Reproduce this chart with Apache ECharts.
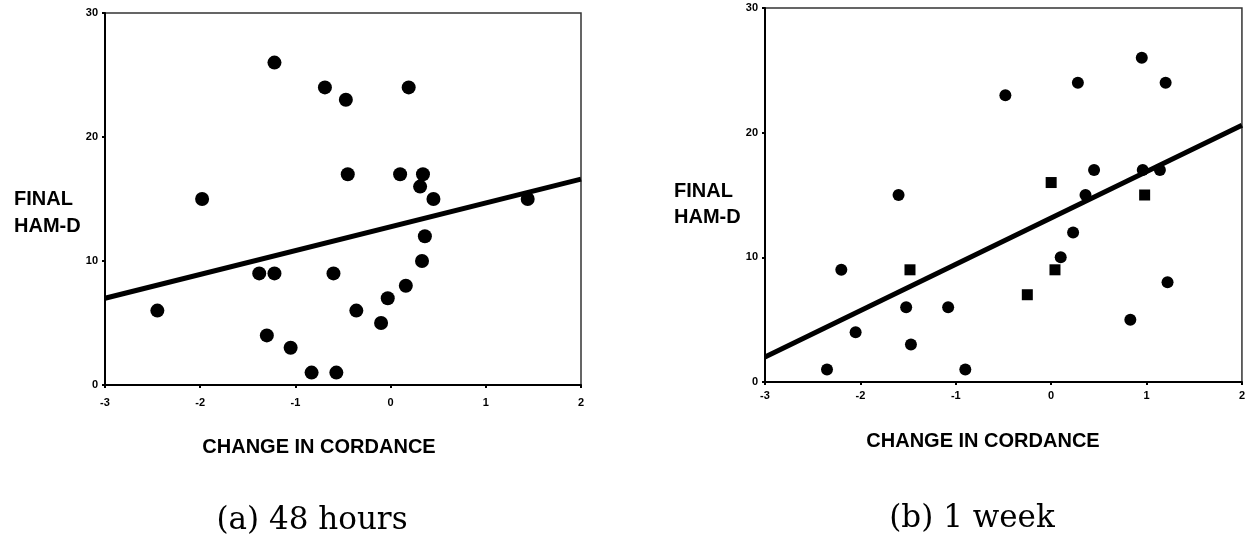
<!DOCTYPE html>
<html>
<head>
<meta charset="utf-8">
<script src="https://cdn.jsdelivr.net/npm/echarts@6/dist/echarts.min.js"></script>
<style>
html,body{margin:0;padding:0;background:#fff;}
#chart{width:1248px;height:543px;}
</style>
</head>
<body>
<div id="chart"></div>
<script>
// ---- data ----
const xTicks = [-3, -2, -1, 0, 1, 2];
const yTicks = [0, 10, 20, 30];

// (a) 48 hours
const leftX = [-2.45, -1.98, -1.22, -0.69, -0.47, 0.19, -0.45, 0.10, 0.34, 0.31, 0.45, 1.44, 0.36, 0.33, -1.38, -1.22, -0.60, 0.16, -0.03, -0.36, -0.10, -1.30, -1.05, -0.83, -0.57];
const leftY = [6, 15, 26, 24, 23, 24, 17, 17, 17, 16, 15, 15, 12, 10, 9, 9, 9, 8, 7, 6, 5, 4, 3, 1, 1];
const leftFitX = [-3, 2];
const leftFitY = [7.0, 16.6];

// (b) 1 week
const rightRoundX = [-2.35, -2.20, -2.05, -1.60, -1.52, -1.47, -1.08, -0.90, -0.48, 0.10, 0.23, 0.28, 0.36, 0.45, 0.83, 0.95, 0.96, 1.14, 1.20, 1.22];
const rightRoundY = [1, 9, 4, 15, 6, 3, 6, 1, 23, 10, 12, 24, 15, 17, 5, 26, 17, 17, 24, 8];
const rightSquareX = [-1.48, -0.25, 0.00, 0.04, 0.98];
const rightSquareY = [9, 7, 16, 9, 15];
const rightFitX = [-3, 2];
const rightFitY = [2.0, 20.6];

const yTitle = 'FINAL\nHAM-D';
const xTitle = 'CHANGE IN CORDANCE';
const captions = ['(a) 48 hours', '(b) 1 week'];

// ---- helpers ----
const zip = (xs, ys) => xs.map((x, i) => [x, ys[i]]);
const tickFont = { fontFamily: 'Liberation Sans, Arial, sans-serif', fontWeight: 'bold', fontSize: 11, color: '#000' };

function xAxis(gridIndex, margin) {
  return {
    type: 'value', gridIndex, min: xTicks[0], max: xTicks[xTicks.length - 1], interval: 1,
    axisLine: { show: true, onZero: false, lineStyle: { color: '#000', width: 2 } },
    axisTick: { show: true, length: 3, lineStyle: { color: '#000', width: 2 } },
    splitLine: { show: false },
    axisLabel: Object.assign({ margin, formatter: v => String(v) }, tickFont)
  };
}
function yAxis(gridIndex) {
  return {
    type: 'value', gridIndex, min: yTicks[0], max: yTicks[yTicks.length - 1], interval: 10,
    axisLine: { show: true, onZero: false, lineStyle: { color: '#000', width: 2 } },
    axisTick: { show: true, length: 3, lineStyle: { color: '#000', width: 2 } },
    splitLine: { show: false },
    axisLabel: Object.assign({ margin: 7 }, tickFont)
  };
}

const chart = echarts.init(document.getElementById('chart'), null, { renderer: 'canvas' });
const titleFont = 'bold 20px "Liberation Sans", Arial, sans-serif';
const capFont = '31px "DejaVu Serif", serif';
const dot = { color: '#000', opacity: 1 };

chart.setOption({
  backgroundColor: '#fff',
  animation: false,
  grid: [
    { left: 105, top: 13, width: 476, height: 372, show: true, borderColor: '#333', borderWidth: 1.5, backgroundColor: 'transparent' },
    { left: 765, top: 8, width: 479, height: 374, show: true, borderColor: '#333', borderWidth: 1.5, backgroundColor: 'transparent' }
  ],
  xAxis: [xAxis(0, 12), xAxis(1, 8)],
  yAxis: [yAxis(0), yAxis(1)],
  series: [
    { type: 'line', xAxisIndex: 0, yAxisIndex: 0, data: zip(leftFitX, leftFitY), symbol: 'none', lineStyle: { color: '#000', width: 5 }, z: 2 },
    { type: 'scatter', xAxisIndex: 0, yAxisIndex: 0, data: zip(leftX, leftY), symbol: 'circle', symbolSize: 14, itemStyle: dot, z: 3 },
    { type: 'line', xAxisIndex: 1, yAxisIndex: 1, data: zip(rightFitX, rightFitY), symbol: 'none', lineStyle: { color: '#000', width: 5 }, z: 2 },
    { type: 'scatter', xAxisIndex: 1, yAxisIndex: 1, data: zip(rightRoundX, rightRoundY), symbol: 'circle', symbolSize: 12, itemStyle: dot, z: 3 },
    { type: 'scatter', xAxisIndex: 1, yAxisIndex: 1, data: zip(rightSquareX, rightSquareY), symbol: 'rect', symbolSize: 11, itemStyle: dot, z: 3 }
  ],
  graphic: [
    { type: 'text', left: 14, top: 186, style: { text: yTitle, font: titleFont, fill: '#000', align: 'center', lineHeight: 27, width: 66 } },
    { type: 'text', left: 674, top: 178, style: { text: yTitle, font: titleFont, fill: '#000', align: 'center', lineHeight: 26, width: 66 } },
    { type: 'text', x: 319, y: 447, style: { text: xTitle, font: titleFont, fill: '#000', align: 'center', verticalAlign: 'middle' } },
    { type: 'text', x: 983, y: 441, style: { text: xTitle, font: titleFont, fill: '#000', align: 'center', verticalAlign: 'middle' } },
    { type: 'text', x: 312, y: 521, style: { text: captions[0], font: capFont, fill: '#000', align: 'center', verticalAlign: 'middle' } },
    { type: 'text', x: 972, y: 519, style: { text: captions[1], font: capFont, fill: '#000', align: 'center', verticalAlign: 'middle' } }
  ]
});
</script>
</body>
</html>
